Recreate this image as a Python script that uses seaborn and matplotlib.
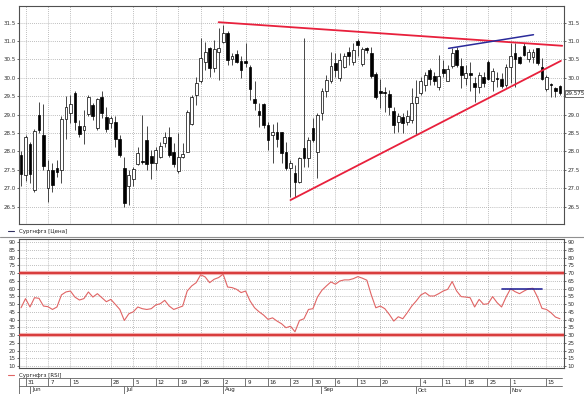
import numpy as np
import pandas as pd
import matplotlib
matplotlib.use("Agg")
import matplotlib.pyplot as plt
from matplotlib.lines import Line2D
import seaborn as sns

# Дневные свечи (28 мая - 18 ноября), индекс = торговый день
opens = [27.9, 27.35, 28.2, 26.95, 28.99, 28.45, 27.0, 27.5, 27.55, 27.5,
         28.88, 29.04, 29.58, 28.7, 28.58, 29.01, 29.26, 28.63, 29.49, 28.93,
         28.77, 28.81, 28.33, 27.54, 27.06, 27.24, 27.66, 27.74, 28.31, 27.88,
         27.68, 27.86, 28.22, 28.4, 27.99, 27.48, 27.86, 27.99, 28.75, 29.52,
         29.9, 30.42, 30.8, 30.26, 30.71, 30.98, 31.21, 30.5, 30.65, 30.47,
         30.46, 30.3, 29.43, 29.1, 29.29, 28.72, 28.45, 28.54, 28.52, 27.99,
         27.54, 27.41, 27.18, 28.09, 27.81, 28.63, 27.99, 29.04, 29.63, 29.9,
         30.41, 29.99, 30.3, 30.71, 30.44, 31.0, 30.38, 30.8, 30.67, 30.1,
         29.63, 29.62, 29.56, 29.11, 28.81, 28.93, 28.81, 28.86, 29.31, 29.6,
         29.81, 30.2, 30.06, 29.74, 30.23, 29.92, 30.32, 30.76, 30.32, 29.99,
         30.12, 29.85, 29.74, 30.03, 30.42, 29.91, 30.0, 29.96, 29.81, 30.3,
         30.67, 30.56, 30.87, 30.5, 30.56, 30.8, 30.3, 29.69, 29.83, 29.72,
         29.78]
highs = [28.0, 28.45, 28.25, 28.6, 29.35, 29.3, 27.77, 27.7, 27.77, 28.95,
         29.5, 29.53, 29.63, 28.85, 29.13, 29.53, 29.31, 29.44, 29.65, 29.22,
         28.96, 28.95, 28.45, 27.86, 27.5, 27.58, 28.13, 28.99, 28.69, 28.04,
         28.13, 28.27, 28.54, 28.67, 28.22, 28.51, 28.22, 29.13, 29.53, 30.03,
         31.07, 30.98, 30.85, 31.03, 31.35, 31.44, 31.26, 30.67, 30.76, 30.58,
         30.95, 30.35, 29.9, 29.31, 29.31, 28.81, 28.75, 28.81, 28.54, 28.27,
         27.77, 27.63, 27.86, 31.09, 28.4, 28.9, 29.04, 29.72, 30.08, 30.71,
         30.67, 30.67, 30.67, 30.85, 30.94, 31.05, 30.85, 30.85, 30.85, 30.17,
         29.98, 29.74, 29.67, 29.22, 29.04, 29.04, 29.13, 29.72, 29.94, 30.03,
         30.17, 30.26, 30.17, 30.62, 30.49, 30.35, 30.8, 30.85, 30.53, 30.35,
         30.44, 30.03, 30.17, 30.17, 30.49, 30.26, 30.17, 30.12, 30.38, 30.94,
         30.94, 30.59, 30.94, 30.78, 30.78, 30.82, 30.53, 30.08, 29.85, 29.76,
         29.8]
lows = [27.05, 27.2, 27.15, 26.9, 28.5, 27.5, 26.64, 26.9, 27.3, 27.15,
        28.35, 28.76, 28.58, 28.4, 28.19, 28.95, 28.86, 28.58, 28.9, 28.54,
        28.63, 28.13, 27.86, 26.5, 26.55, 27.05, 27.63, 27.66, 27.5, 27.25,
        27.5, 27.81, 28.13, 27.86, 27.59, 27.41, 27.81, 27.98, 28.72, 29.26,
        29.85, 30.21, 30.03, 30.17, 29.94, 30.94, 30.35, 30.35, 30.4, 29.99,
        30.3, 29.4, 29.13, 28.67, 28.63, 28.04, 27.68, 28.13, 27.68, 27.5,
        26.77, 26.77, 27.15, 27.59, 27.59, 28.27, 27.27, 28.86, 29.49, 29.85,
        30.03, 29.9, 30.26, 30.35, 30.35, 30.58, 30.33, 30.67, 29.99, 29.42,
        29.17, 29.08, 28.99, 28.49, 28.54, 28.49, 28.72, 28.76, 28.48, 29.53,
        29.63, 29.81, 29.81, 29.67, 30.03, 29.9, 30.26, 30.3, 29.72, 29.81,
        29.63, 29.35, 29.58, 29.76, 29.94, 29.63, 29.76, 29.72, 29.74, 29.85,
        29.76, 30.38, 30.59, 30.44, 30.39, 30.35, 29.94, 29.63, 29.49, 29.47,
        29.53]
closes = [27.4, 28.4, 27.4, 28.55, 28.58, 27.6, 27.5, 27.1, 27.45, 28.88,
          29.2, 29.3, 28.81, 28.47, 28.69, 29.49, 28.95, 29.42, 29.04, 28.6,
          28.9, 28.33, 27.9, 26.59, 27.36, 27.51, 27.97, 27.72, 27.66, 27.7,
          28.04, 28.16, 28.4, 27.9, 27.66, 27.84, 27.92, 29.07, 29.49, 29.85,
          30.55, 30.71, 30.26, 30.78, 30.8, 31.23, 30.49, 30.58, 30.44, 30.21,
          30.4, 29.69, 29.31, 28.99, 28.72, 28.31, 28.54, 28.33, 27.97, 27.54,
          27.7, 27.18, 27.81, 27.81, 28.31, 28.31, 28.99, 29.63, 29.94, 30.32,
          30.2, 30.49, 30.59, 30.59, 30.76, 30.89, 30.78, 30.76, 30.05, 29.49,
          29.6, 29.58, 29.2, 28.72, 28.95, 28.76, 28.97, 29.31, 29.49, 29.92,
          30.08, 29.96, 29.92, 30.05, 30.12, 30.24, 30.67, 30.35, 30.08, 30.12,
          30.08, 29.74, 30.08, 29.87, 29.96, 30.19, 29.96, 29.78, 30.3, 30.59,
          30.5, 30.41, 30.62, 30.71, 30.71, 30.39, 29.96, 30.01, 29.8, 29.64,
          29.575]
rsi = [47.7, 53.6, 48.2, 54.2, 53.8, 48.8, 48.4, 46.6, 48.2, 56.0,
       57.9, 58.5, 54.6, 52.7, 53.6, 57.9, 54.6, 56.8, 54.2, 51.6,
       53.1, 49.9, 46.6, 39.5, 43.8, 45.1, 48.2, 47.1, 46.6, 47.1,
       49.5, 50.3, 52.5, 48.8, 46.6, 47.7, 48.8, 58.5, 61.8, 63.9,
       69.0, 67.6, 63.9, 66.1, 67.2, 69.4, 61.1, 60.7, 59.6, 57.5,
       58.5, 52.1, 47.7, 45.1, 43.0, 40.2, 41.2, 39.1, 37.4, 34.8,
       35.8, 32.2, 39.5, 40.6, 46.6, 47.1, 54.6, 59.0, 61.8, 64.4,
       62.9, 65.0, 65.7, 65.7, 66.5, 67.8, 66.8, 65.5, 55.9, 47.7,
       48.8, 47.1, 43.4, 39.1, 41.9, 40.6, 44.5, 48.8, 52.1, 55.9,
       57.5, 55.3, 55.3, 56.8, 58.5, 59.6, 64.6, 58.5, 54.9, 54.6,
       54.2, 48.2, 53.1, 49.9, 50.3, 54.9, 51.0, 48.2, 54.6, 60.0,
       58.1, 56.8, 58.5, 60.0, 60.3, 54.6, 47.3, 46.6, 44.5, 41.7,
       40.6]

week_ticks = [1, 6, 11, 20, 25, 30, 35, 40, 45, 50, 55, 60, 65, 70, 75, 80,
              89, 94, 99, 104, 109, 117]
week_labels = ["31", "7", "15", "28", "5", "12", "19", "26", "2", "9", "16",
               "23", "30", "6", "13", "20", "4", "11", "18", "25", "1", "15"]
month_ticks = [2, 23, 45, 67, 88, 109]
month_labels = ["Jun", "Jul", "Aug", "Sep", "Oct", "Nov"]

# трендовые линии (концы в координатах день / цена)
upper_x = [44, 120.5]
upper_y = [31.51, 30.87]
lower_x = [60, 120.2]
lower_y = [26.68, 30.46]
blue_x = [95.2, 114.1]
blue_y = [30.80, 31.17]
rsi_blue_x = [107.2, 116.1]
rsi_blue_y = [60, 60]
rsi_levels = [70, 30]

sns.set_style("white")
plt.rcParams['font.family'] = ['DejaVu Sans']

df = pd.DataFrame({'day': np.arange(len(closes)), 'open': opens, 'high': highs,
                   'low': lows, 'close': closes, 'rsi': rsi})

W, H = 584, 397
fig = plt.figure(figsize=(W / 100, H / 100), dpi=100)
ax1 = fig.add_axes([19 / W, 1 - 224 / H, 545 / W, 218 / H])
ax2 = fig.add_axes([19 / W, 1 - 368 / H, 545 / W, 129 / H])
ax3 = fig.add_axes([19 / W, 1 - 394 / H, 544 / W, 16 / H])

xlim = (-0.45, 120.9)
grid_kw = dict(color='#a8a8a8', linestyle=(0, (1, 1.5)), linewidth=0.6)

# свечи
up = df[df.close >= df.open]
dn = df[df.close < df.open]
ax1.vlines(df.day, df.low, df.high, color='#2a2a2a', linewidth=0.6, zorder=2)
for part, face in [(up, 'white'), (dn, 'black')]:
    h = np.maximum((part.close - part.open).abs(), 0.03)
    ax1.bar(part.day, h, bottom=np.minimum(part.open, part.close), width=0.62,
            color=face, edgecolor='black', linewidth=0.5, zorder=3)

sns.lineplot(x=upper_x, y=upper_y, ax=ax1, color='#e8203c', linewidth=1.3, zorder=4)
sns.lineplot(x=lower_x, y=lower_y, ax=ax1, color='#e8203c', linewidth=1.3, zorder=4)
sns.lineplot(x=blue_x, y=blue_y, ax=ax1, color='#2a2a9a', linewidth=1.1, zorder=4)

ax1.set_xlim(*xlim)
ax1.set_ylim(26.03, 31.95)
ax1.set_yticks(np.arange(26.5, 31.51, 0.5))
ax1.yaxis.set_major_formatter(matplotlib.ticker.FormatStrFormatter('%.1f'))

# последняя цена
ax1.text(1.003, closes[-1], f"{closes[-1]:.3f}", transform=ax1.get_yaxis_transform(),
         fontsize=4, va='center', ha='left', color='#202020', zorder=6,
         bbox=dict(boxstyle='square,pad=0.15', fc='white', ec='#303030', lw=0.5),
         clip_on=False)

# RSI
for lev in rsi_levels:
    ax2.axhline(lev, color='#f2b0b0', linewidth=3.0, zorder=2)
    ax2.axhline(lev, color='#d83a3a', linewidth=1.4, zorder=3)
sns.lineplot(data=df, x='day', y='rsi', ax=ax2, color='#e06464', linewidth=0.8, zorder=4)
sns.lineplot(x=rsi_blue_x, y=rsi_blue_y, ax=ax2, color='#2a2a9a', linewidth=1.2, zorder=5)
ax2.set_xlim(*xlim)
ax2.set_ylim(8.8, 92.1)
ax2.set_yticks(np.arange(10, 91, 5))

for ax in (ax1, ax2):
    ax.set_xticks(week_ticks)
    ax.set_xticklabels([])
    ax.set_xlabel('')
    ax.set_ylabel('')
    ax.grid(True, **grid_kw)
    ax.set_axisbelow(True)
    ax.tick_params(axis='x', length=0)
    ax.tick_params(axis='y', left=True, right=True, labelleft=True, labelright=True,
                   length=1.5, width=0.5, labelsize=4, pad=1, colors='#303030')
    for s in ax.spines.values():
        s.set_color('#505050')
        s.set_linewidth(0.8)

# правую подпись 29.5 закрывает плашка последней цены
ax1.yaxis.get_major_ticks()[6].label2.set_visible(False)

# шкала дат
ax3.set_xlim(*xlim)
ax3.set_ylim(0, 2)
ax3.axis('off')
ax3.plot([xlim[0], xlim[1] - 0.2], [2, 2], color='#606060', lw=0.6)
ax3.plot([xlim[0], xlim[1] - 0.2], [1, 1], color='#606060', lw=0.6)
ax3.plot([xlim[0], xlim[1] - 0.2], [0, 0], color='#606060', lw=0.6)
ax3.vlines([xlim[0]], 0, 2, color='#606060', lw=0.6)
ax3.vlines(week_ticks, 1, 2, color='#606060', lw=0.6)
ax3.vlines(month_ticks, 0, 1, color='#606060', lw=0.6)
for t, lab in zip(week_ticks, week_labels):
    ax3.text(t + 0.5, 1.5, lab, fontsize=4, va='center', ha='left', color='#202020')
for t, lab in zip(month_ticks, month_labels):
    ax3.text(t + 0.5, 0.5, lab, fontsize=4, va='center', ha='left', color='#202020')

# подписи серий и разделитель
fig.add_artist(Line2D([0, 1], [1 - 237 / H] * 2, transform=fig.transFigure,
                      color='#909090', lw=0.8))
fig.add_artist(Line2D([8 / W, 14 / W], [1 - 231 / H] * 2, transform=fig.transFigure,
                      color='#303060', lw=0.8))
fig.text(19 / W, 1 - 231 / H, "Сургнфгз [Цена]", fontsize=4, va='center', color='#202020')
fig.add_artist(Line2D([8 / W, 14 / W], [1 - 375 / H] * 2, transform=fig.transFigure,
                      color='#e06464', lw=0.8))
fig.text(19 / W, 1 - 375 / H, "Сургнфгз [RSI]", fontsize=4, va='center', color='#202020')

fig.savefig('out.png', dpi=100, facecolor='white')
